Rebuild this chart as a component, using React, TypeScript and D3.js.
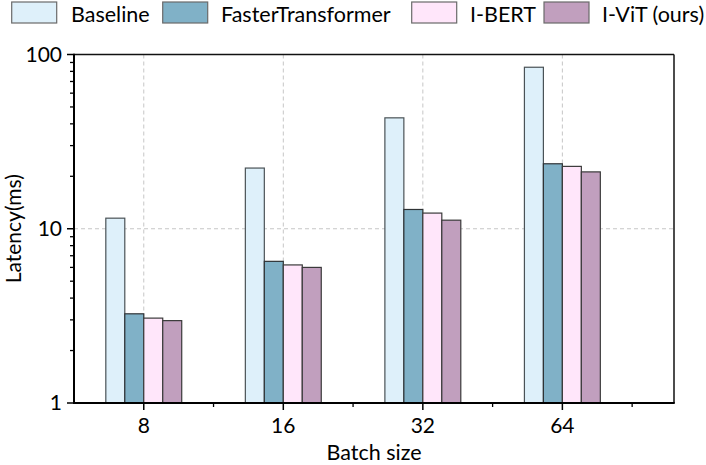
import React from "react";
import * as d3 from "d3";

const categories = ["8", "16", "32", "64"];
const seriesNames = ["Baseline", "FasterTransformer", "I-BERT", "I-ViT (ours)"];
const baseline = [11.5, 22.3, 43.3, 84.5];
const fasterTransformer = [3.25, 6.5, 12.9, 23.6];
const iBert = [3.07, 6.2, 12.3, 22.8];
const iVit = [2.97, 6.0, 11.2, 21.2];
const yTickLabels = [1, 10, 100];
const seriesColors = ["#DEF0FA", "#80B1C7", "#FFE6FA", "#C19FBE"];
const seriesStrokes = ["#4a5256", "#2f3336", "#3a3a3a", "#3a3a3a"];

const W = 706;
const H = 465;
const L = 74, R = 674, T = 54.5, B = 403;
const FONT = "Lato, 'Open Sans', sans-serif";

export default function App() {
  const series = [baseline, fasterTransformer, iBert, iVit];
  const x = d3.scaleLinear().domain([0.5, 4.8]).range([L, R]);
  const y = d3.scaleLog().domain([1, 100]).range([B, T]);
  const barW = (x(2) - x(1)) * 0.136;
  const minorY: number[] = [];
  for (let d = 1; d < 100; d *= 10) for (let k = 2; k <= 9; k++) minorY.push(d * k);
  const minorX = [1.5, 2.5, 3.5, 4.5];

  const legendBoxes = [11.7, 162.7, 411.7, 544];
  const legendTextX = [71, 221, 470, 602];

  return (
    <svg width={W} height={H} style={{ position: "absolute", left: 0, top: 0, background: "#fff" }} fontFamily={FONT}>
      {/* gridlines */}
      {categories.map((c, i) => (
        <line key={"vg" + c} x1={x(i + 1)} x2={x(i + 1)} y1={T} y2={B} stroke="#c6c6c6" strokeWidth={1} strokeDasharray="4,3" />
      ))}
      <line x1={L} x2={R} y1={y(10)} y2={y(10)} stroke="#c6c6c6" strokeWidth={1} strokeDasharray="4,3" />

      {/* bars */}
      {series.map((vals, si) =>
        vals.map((v, ci) => {
          const x0 = x(ci + 1) - 2 * barW + si * barW;
          return (
            <rect key={si + "-" + ci} x={x0} y={y(v)} width={barW} height={B - y(v)}
              fill={seriesColors[si]} stroke={seriesStrokes[si]} strokeWidth={1.2} />
          );
        })
      )}

      {/* frame */}
      <line x1={L} x2={R} y1={T} y2={T} stroke="#111" strokeWidth={1.5} />
      <line x1={R} x2={R} y1={T} y2={B} stroke="#111" strokeWidth={1.5} />
      <line x1={L} x2={L} y1={T - 0.75} y2={B + 1} stroke="#000" strokeWidth={2} />
      <line x1={L - 1} x2={R + 0.75} y1={B} y2={B} stroke="#000" strokeWidth={2} />

      {/* y ticks */}
      {yTickLabels.map((t) => (
        <g key={"yt" + t}>
          <line x1={L - 7} x2={L} y1={y(t)} y2={y(t)} stroke="#000" strokeWidth={1.5} />
          <text x={L - 12} y={y(t)} dy="0.35em" textAnchor="end" fontSize={21} fill="#000">{t}</text>
        </g>
      ))}
      {minorY.map((t) => (
        <line key={"my" + t} x1={L - 4} x2={L} y1={y(t)} y2={y(t)} stroke="#000" strokeWidth={1.3} />
      ))}

      {/* x ticks */}
      {categories.map((c, i) => (
        <g key={"xt" + c}>
          <line x1={x(i + 1)} x2={x(i + 1)} y1={B} y2={B + 7} stroke="#000" strokeWidth={1.5} />
          <text x={x(i + 1)} y={433} textAnchor="middle" fontSize={21} fill="#000">{c}</text>
        </g>
      ))}
      {minorX.map((m) => (
        <line key={"mx" + m} x1={x(m)} x2={x(m)} y1={B} y2={B + 4} stroke="#000" strokeWidth={1.3} />
      ))}

      {/* axis titles */}
      <text x={(L + R) / 2} y={460} textAnchor="middle" fontSize={21.5} fill="#000">Batch size</text>
      <text transform={`translate(21, ${(T + B) / 2}) rotate(-90)`} textAnchor="middle" fontSize={21} fill="#000">Latency(ms)</text>

      {/* legend */}
      {seriesNames.map((n, i) => (
        <g key={"lg" + n}>
          <rect x={legendBoxes[i]} y={2} width={45} height={21} fill={seriesColors[i]} stroke="#6a6a6a" strokeWidth={1.2} />
          <text x={legendTextX[i]} y={21.5} fontSize={21.5} fill="#000">{n}</text>
        </g>
      ))}
    </svg>
  );
}
